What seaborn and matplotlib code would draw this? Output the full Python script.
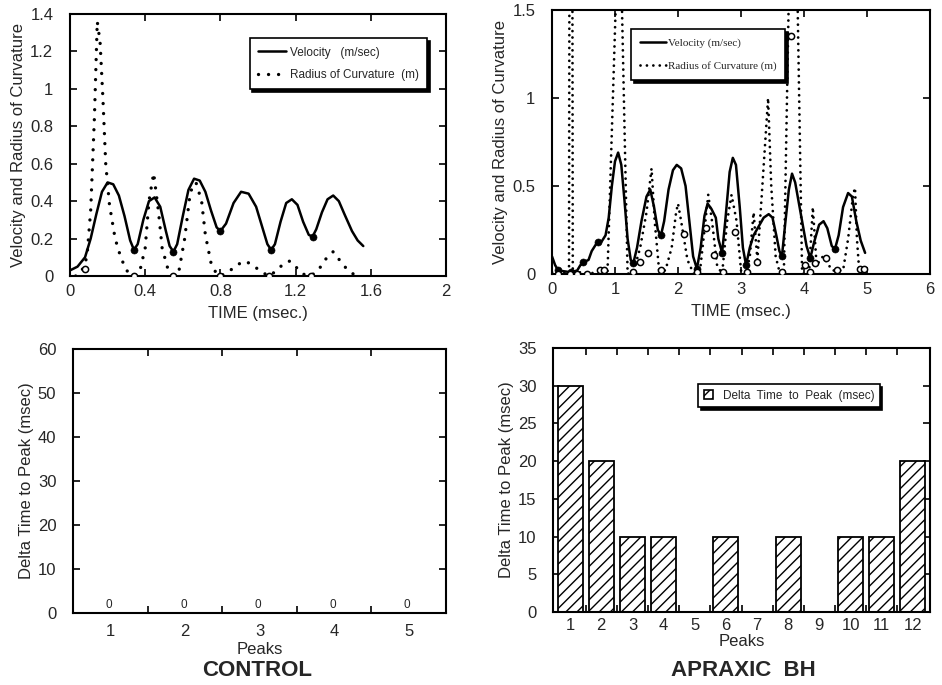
import numpy as np
import pandas as pd
import matplotlib
matplotlib.use("Agg")
import matplotlib.pyplot as plt
from matplotlib.patches import Patch
from matplotlib.ticker import FixedLocator
import seaborn as sns

# ---------------- data ----------------
# Control subject: tangential velocity and radius of curvature over time
ctrl_vel_t = [0.00, 0.04, 0.08, 0.11, 0.14, 0.17, 0.20, 0.23, 0.26, 0.29, 0.32, 0.34,
              0.36, 0.39, 0.42, 0.45, 0.48, 0.51, 0.53, 0.55, 0.57, 0.60, 0.63, 0.66,
              0.69, 0.72, 0.75, 0.78, 0.80, 0.83, 0.87, 0.91, 0.95, 0.99, 1.02, 1.05,
              1.07, 1.09, 1.12, 1.15, 1.18, 1.21, 1.24, 1.27, 1.29, 1.31, 1.34, 1.37,
              1.40, 1.43, 1.46, 1.50, 1.53, 1.56]
ctrl_vel = [0.03, 0.05, 0.10, 0.20, 0.33, 0.45, 0.50, 0.49, 0.43, 0.32, 0.19, 0.14,
            0.17, 0.30, 0.40, 0.42, 0.37, 0.24, 0.16, 0.13, 0.17, 0.32, 0.46, 0.52,
            0.51, 0.45, 0.35, 0.26, 0.24, 0.28, 0.39, 0.45, 0.44, 0.37, 0.27, 0.17,
            0.14, 0.17, 0.29, 0.39, 0.41, 0.38, 0.29, 0.22, 0.21, 0.25, 0.34, 0.41,
            0.43, 0.40, 0.33, 0.24, 0.19, 0.16]
ctrl_rad_t = [0.03, 0.06, 0.09, 0.11, 0.13, 0.145, 0.16, 0.175, 0.19, 0.21, 0.24, 0.27,
              0.30, 0.34, 0.37, 0.40, 0.42, 0.445, 0.47, 0.49, 0.52, 0.55, 0.58, 0.61,
              0.64, 0.67, 0.70, 0.72, 0.75, 0.78, 0.80, 0.84, 0.89, 0.93, 0.97, 1.02,
              1.06, 1.10, 1.14, 1.17, 1.20, 1.24, 1.28, 1.32, 1.36, 1.40, 1.43, 1.47, 1.52]
ctrl_rad = [0.00, 0.02, 0.10, 0.35, 0.85, 1.36, 1.25, 0.95, 0.60, 0.38, 0.20, 0.10,
            0.03, 0.00, 0.02, 0.15, 0.40, 0.55, 0.35, 0.15, 0.04, 0.00, 0.03, 0.20,
            0.45, 0.50, 0.40, 0.22, 0.07, 0.01, 0.00, 0.02, 0.06, 0.08, 0.06, 0.02,
            0.00, 0.03, 0.07, 0.08, 0.05, 0.01, 0.00, 0.03, 0.09, 0.13, 0.09, 0.04, 0.00]
ctrl_vmin_t = [0.34, 0.55, 0.80, 1.07, 1.29]
ctrl_vmin = [0.14, 0.13, 0.24, 0.14, 0.21]
ctrl_rmin_t = [0.08, 0.34, 0.55, 0.80, 1.06, 1.28]
ctrl_rmin = [0.04, 0.00, 0.00, 0.00, 0.00, 0.00]

# Apraxic subject BH
apx_vel_t = [0.00, 0.05, 0.10, 0.20, 0.30, 0.40, 0.45, 0.52, 0.58, 0.63, 0.70, 0.78,
             0.85, 0.90, 0.95, 1.00, 1.05, 1.10, 1.15, 1.20, 1.25, 1.29, 1.35, 1.42,
             1.50, 1.56, 1.62, 1.68, 1.73, 1.78, 1.85, 1.92, 1.98, 2.05, 2.12, 2.18,
             2.24, 2.30, 2.36, 2.42, 2.47, 2.53, 2.60, 2.64, 2.70, 2.75, 2.82, 2.87,
             2.92, 2.98, 3.03, 3.08, 3.14, 3.20, 3.28, 3.36, 3.44, 3.50, 3.56, 3.61,
             3.65, 3.70, 3.76, 3.81, 3.86, 3.92, 3.98, 4.04, 4.10, 4.16, 4.24, 4.31,
             4.37, 4.44, 4.49, 4.55, 4.62, 4.70, 4.76, 4.83, 4.90, 4.97]
apx_vel = [0.10, 0.05, 0.02, 0.015, 0.01, 0.02, 0.05, 0.07, 0.08, 0.13, 0.17, 0.18,
           0.22, 0.32, 0.50, 0.64, 0.69, 0.62, 0.42, 0.20, 0.08, 0.06, 0.15, 0.30,
           0.44, 0.48, 0.38, 0.25, 0.22, 0.30, 0.48, 0.59, 0.62, 0.60, 0.50, 0.30,
           0.10, 0.03, 0.15, 0.33, 0.40, 0.37, 0.32, 0.20, 0.12, 0.30, 0.58, 0.66,
           0.62, 0.38, 0.15, 0.05, 0.15, 0.22, 0.27, 0.32, 0.34, 0.32, 0.22, 0.13,
           0.10, 0.28, 0.48, 0.57, 0.52, 0.40, 0.28, 0.16, 0.09, 0.18, 0.28, 0.30,
           0.26, 0.16, 0.14, 0.22, 0.38, 0.46, 0.44, 0.30, 0.19, 0.12]
apx_rad_t = [0.00, 0.10, 0.20, 0.27, 0.30, 0.33, 0.45, 0.60, 0.75, 0.88, 1.07, 1.20,
             1.30, 1.40, 1.50, 1.58, 1.63, 1.70, 1.80, 1.90, 1.97, 2.00, 2.05, 2.15,
             2.25, 2.35, 2.42, 2.48, 2.54, 2.62, 2.70, 2.78, 2.85, 2.93, 3.00, 3.08,
             3.14, 3.20, 3.26, 3.33, 3.43, 3.48, 3.55, 3.62, 3.68, 3.83, 3.97, 4.08,
             4.14, 4.20, 4.30, 4.45, 4.62, 4.70, 4.78, 4.81, 4.84, 4.88]
apx_rad = [0.01, 0.00, 0.01, 0.00, 8.00, 0.00, 0.01, 0.00, 0.02, 0.00, 2.20, 0.00,
           0.02, 0.15, 0.35, 0.60, 0.30, 0.02, 0.02, 0.15, 0.35, 0.40, 0.30, 0.08,
           0.00, 0.02, 0.25, 0.45, 0.30, 0.05, 0.00, 0.30, 0.45, 0.30, 0.02, 0.00,
           0.10, 0.35, 0.08, 0.45, 1.00, 0.50, 0.10, 0.00, 0.00, 3.00, 0.00, 0.00,
           0.38, 0.05, 0.10, 0.02, 0.02, 0.20, 0.45, 0.49, 0.20, 0.00]
apx_vmin_t = [0.10, 0.30, 0.49, 0.73, 1.29, 1.73, 2.30, 2.70, 3.08, 3.65, 4.10, 4.49]
apx_vmin = [0.02, 0.01, 0.07, 0.18, 0.06, 0.22, 0.03, 0.12, 0.05, 0.10, 0.09, 0.14]
apx_rmin_t = [0.10, 0.29, 0.40, 0.55, 0.76, 0.83, 1.29, 1.40, 1.52, 1.73, 2.09, 2.30,
              2.45, 2.57, 2.72, 2.90, 3.09, 3.25, 3.65, 3.80, 4.02, 4.10, 4.18, 4.35,
              4.52, 4.89, 4.96]
apx_rmin = [0.00, 0.00, 0.00, 0.00, 0.02, 0.02, 0.01, 0.07, 0.12, 0.02, 0.23, 0.01,
            0.26, 0.11, 0.01, 0.24, 0.01, 0.07, 0.01, 1.35, 0.05, 0.01, 0.06, 0.09,
            0.02, 0.03, 0.03]

# Delta time to peak (msec)
ctrl_peaks = ["1", "2", "3", "4", "5"]
ctrl_delta = [0, 0, 0, 0, 0]
apx_peaks = ["1", "2", "3", "4", "5", "6", "7", "8", "9", "10", "11", "12"]
apx_delta = [30, 20, 10, 10, 0, 10, 0, 10, 0, 10, 10, 20]

# ---------------- style ----------------
sns.set_style("ticks", {"xtick.direction": "in", "ytick.direction": "in"})
plt.rcParams["font.family"] = ["Liberation Sans", "DejaVu Sans"]
plt.rcParams["axes.linewidth"] = 1.5
plt.rcParams["hatch.linewidth"] = 1.0

fig = plt.figure(figsize=(9.42, 6.85), dpi=100)
W, H = 942.0, 685.0


def place(l, t, r, b):
    return fig.add_axes([l / W, 1 - b / H, (r - l) / W, (b - t) / H])


ax_tl = place(70, 14, 446, 276)
ax_tr = place(552, 10, 930, 274)
ax_bl = place(73, 349, 446, 613)
ax_br = place(553, 348, 930, 612)

LABEL_FS = 12
TICK_FS = 12


def frame(ax):
    for s in ax.spines.values():
        s.set_visible(True)
        s.set_linewidth(1.5)
        s.set_color("black")
    ax.tick_params(which="both", direction="in", top=True, right=True,
                   width=1.2, color="black", labelsize=TICK_FS)
    ax.tick_params(which="major", length=5)
    ax.tick_params(which="minor", length=5)
    ax.tick_params(axis="y", pad=12)
    ax.tick_params(axis="x", pad=6)
    ax.set_facecolor("white")


def dotted(line, lw, gap):
    line.set_linestyle((0, (0.01, gap)))
    line.set_linewidth(lw)
    line.set_dash_capstyle("round")


def trace_panel(ax, vt, v, rt, r, vmt, vm, rmt, rm, dot_lw, dot_gap):
    sns.lineplot(x=vt, y=v, ax=ax, color="black", linewidth=1.8,
                 estimator=None, sort=False, legend=False)
    sns.lineplot(x=rt, y=r, ax=ax, color="black", linewidth=dot_lw,
                 estimator=None, sort=False, legend=False)
    dotted(ax.get_lines()[-1], dot_lw, dot_gap)
    sns.scatterplot(x=vmt, y=vm, ax=ax, color="black", s=26, zorder=4,
                    edgecolor="black", legend=False)
    sns.scatterplot(x=rmt, y=rm, ax=ax, facecolor="white", s=20, zorder=4,
                    edgecolor="black", linewidth=1.1, legend=False)


# ---- top-left: control trajectory ----
trace_panel(ax_tl, ctrl_vel_t, ctrl_vel, ctrl_rad_t, ctrl_rad,
            ctrl_vmin_t, ctrl_vmin, ctrl_rmin_t, ctrl_rmin, 2.4, 3.0)
ax_tl.set_xlim(0, 2)
ax_tl.set_ylim(0, 1.4)
ax_tl.set_xticks(np.arange(0, 2.01, 0.4))
ax_tl.set_xticklabels(["0", "0.4", "0.8", "1.2", "1.6", "2"])
ax_tl.set_yticks(np.arange(0, 1.41, 0.2))
ax_tl.set_yticklabels(["0", "0.2", "0.4", "0.6", "0.8", "1", "1.2", "1.4"])
frame(ax_tl)
ax_tl.set_xlabel("TIME (msec.)", fontsize=LABEL_FS, labelpad=5)
ax_tl.set_ylabel("Velocity and Radius of Curvature", fontsize=LABEL_FS, labelpad=3)

lines_tl = ax_tl.get_lines()
leg = ax_tl.legend(handles=[lines_tl[0], lines_tl[1]],
                   labels=["Velocity   (m/sec)", "Radius of Curvature  (m)"],
                   loc="upper left", bbox_to_anchor=(0.462, 0.93),
                   fontsize=8.5, frameon=True, fancybox=False,
                   shadow={"color": "black", "alpha": 1.0},
                   edgecolor="black", framealpha=1, handlelength=2.4,
                   handletextpad=0.3, borderpad=0.7, labelspacing=0.9)
leg.get_frame().set_linewidth(1.2)

# ---- top-right: apraxic trajectory ----
trace_panel(ax_tr, apx_vel_t, apx_vel, apx_rad_t, apx_rad,
            apx_vmin_t, apx_vmin, apx_rmin_t, apx_rmin, 2.0, 2.3)
ax_tr.set_xlim(0, 6)
ax_tr.set_ylim(0, 1.5)
ax_tr.set_xticks(range(0, 7))
ax_tr.set_yticks([0, 0.5, 1, 1.5])
ax_tr.set_yticklabels(["0", "0.5", "1", "1.5"])
frame(ax_tr)
ax_tr.set_xlabel("TIME (msec.)", fontsize=LABEL_FS, labelpad=5)
ax_tr.set_ylabel("Velocity and Radius of Curvature", fontsize=LABEL_FS, labelpad=3)

lines_tr = ax_tr.get_lines()
leg = ax_tr.legend(handles=[lines_tr[0], lines_tr[1]],
                   labels=["Velocity (m/sec)", "Radius of Curvature (m)"],
                   loc="upper left", bbox_to_anchor=(0.195, 0.95),
                   prop={"family": "Liberation Serif", "size": 8},
                   frameon=True, fancybox=False,
                   shadow={"color": "black", "alpha": 1.0},
                   edgecolor="black", framealpha=1, handlelength=2.3,
                   handletextpad=0.2, borderpad=0.8, labelspacing=1.2)
leg.get_frame().set_linewidth(1.2)

# ---- bottom-left: control delta time ----
ctrl_df = pd.DataFrame({"peak": ctrl_peaks, "delta": ctrl_delta})
sns.barplot(data=ctrl_df, x="peak", y="delta", ax=ax_bl, color="white",
            edgecolor="black", linewidth=1.0, width=0.8, saturation=1)
for i, v in enumerate(ctrl_delta):
    ax_bl.text(i - 0.02, v + 1.9, str(v), ha="center", va="center", fontsize=8.5)
ax_bl.set_xlim(-0.5, 4.5)
ax_bl.set_ylim(0, 60)
ax_bl.set_yticks(range(0, 61, 10))
frame(ax_bl)
ax_bl.xaxis.set_minor_locator(FixedLocator([0.5, 1.5, 2.5, 3.5]))
ax_bl.tick_params(axis="x", which="major", length=0, pad=8)
ax_bl.set_xlabel("Peaks", fontsize=LABEL_FS, labelpad=2)
ax_bl.set_ylabel("Delta Time to Peak (msec)", fontsize=LABEL_FS, labelpad=3)

# ---- bottom-right: apraxic delta time ----
apx_df = pd.DataFrame({"peak": apx_peaks, "delta": apx_delta})
sns.barplot(data=apx_df, x="peak", y="delta", ax=ax_br, color="white",
            edgecolor="black", linewidth=1.3, width=0.8, saturation=1,
            hatch="///")
ax_br.set_xlim(-0.55, 11.55)
ax_br.set_ylim(0, 35)
ax_br.set_yticks(range(0, 36, 5))
frame(ax_br)
ax_br.xaxis.set_minor_locator(FixedLocator([i + 0.5 for i in range(11)]))
ax_br.tick_params(axis="x", which="major", length=0, pad=4)
ax_br.set_xlabel("Peaks", fontsize=LABEL_FS, labelpad=1)
ax_br.set_ylabel("Delta Time to Peak (msec)", fontsize=LABEL_FS, labelpad=3)

bar_handle = Patch(facecolor="white", edgecolor="black", hatch="///", linewidth=1.2)
leg = ax_br.legend(handles=[bar_handle], labels=["Delta  Time  to  Peak  (msec)"],
                   loc="upper left", bbox_to_anchor=(0.37, 0.885),
                   fontsize=8.5, frameon=True, fancybox=False,
                   shadow={"color": "black", "alpha": 1.0},
                   edgecolor="black", framealpha=1,
                   handlelength=0.8, handleheight=0.8, handletextpad=0.8,
                   borderpad=0.45)
leg.get_frame().set_linewidth(1.2)

# ---- group captions ----
fig.text(257 / W, 1 - 671 / H, "CONTROL", ha="center", va="center",
         fontsize=16, fontweight="bold")
fig.text(743 / W, 1 - 671 / H, "APRAXIC  BH", ha="center", va="center",
         fontsize=16, fontweight="bold")

fig.savefig("out.png", dpi=100, facecolor="white")
